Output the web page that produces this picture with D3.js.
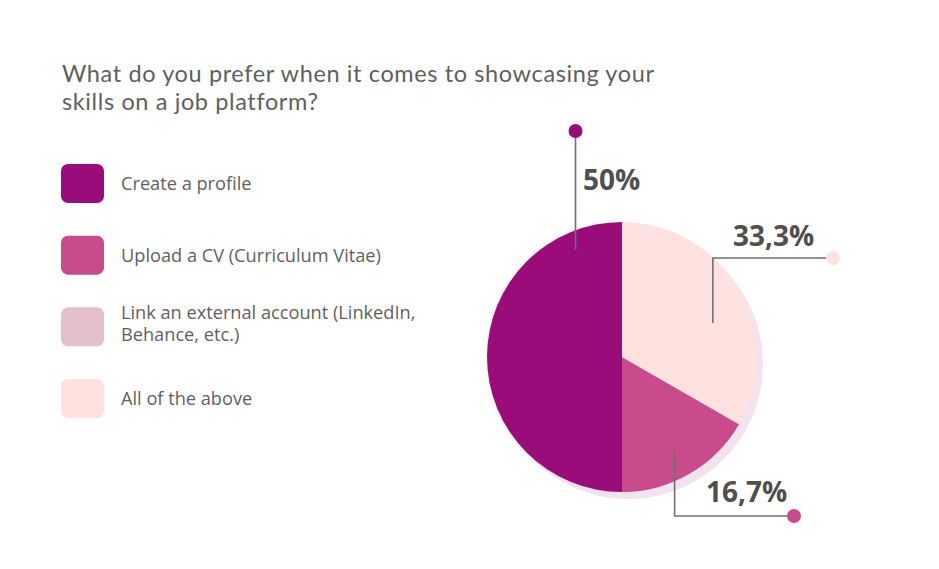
<!DOCTYPE html>
<html>
<head>
<meta charset="utf-8">
<script src="https://cdn.jsdelivr.net/npm/d3@7"></script>
<style>
  html, body { margin: 0; padding: 0; background: #ffffff; }
  svg { display: block; }
</style>
</head>
<body>
<svg id="chart" width="939" height="569"></svg>
<script>
// ---- data ----
const title = ["What do you prefer when it comes to showcasing your", "skills on a job platform?"];
const categories = ["Create a profile", "Upload a CV (Curriculum Vitae)", "Link an external account (LinkedIn, Behance, etc.)", "All of the above"];
const legendLines = [["Create a profile"], ["Upload a CV (Curriculum Vitae)"], ["Link an external account (LinkedIn,", "Behance, etc.)"], ["All of the above"]];
const values = [50, 16.7, 0, 33.3];
const valueLabels = ["50%", "16,7%", "0%", "33,3%"];
const colors = ["#9a0c79", "#c94b8b", "#e6bfcf", "#fde2df"];
const pieOrder = [3, 1, 2, 0]; // drawing order clockwise from 12 o'clock

// ---- layout ----
const W = 939, H = 569;
const cx = 622, cy = 357, R = 135;
const font = "'Open Sans', 'Noto Sans', sans-serif";
const titleFont = "Lato, 'Open Sans', sans-serif";
const textColor = "#5f5f5f";

const svg = d3.select("#chart");

// title (one text element per line)
const titleSize = 23.5;
const titleG = svg.append("g");
title.forEach((line, i) => {
  titleG.append("text")
    .attr("x", 62).attr("y", 82 + i * 28)
    .attr("font-family", titleFont).attr("font-size", titleSize).attr("fill", textColor)
    .text(line);
});
// stretch first line to the reference width via letter-spacing
(function () {
  const first = titleG.select("text").node();
  const w = first.getComputedTextLength();
  const target = 592;
  const ls = (target - w) / (title[0].length - 1);
  titleG.selectAll("text").attr("letter-spacing", Math.max(0, ls));
})();

// legend
const legend = svg.append("g");
const rowY = d3.scaleLinear().domain([0, 3]).range([164, 379]);
categories.forEach((c, i) => {
  const g = legend.append("g").attr("transform", `translate(61,${rowY(i)})`);
  g.append("rect").attr("width", 43).attr("height", 39).attr("rx", 7).attr("fill", colors[i]);
  const lines = legendLines[i];
  lines.forEach((l, j) => {
    g.append("text")
      .attr("font-family", font).attr("font-size", 18.2).attr("fill", textColor)
      .attr("x", 60)
      .attr("y", lines.length === 1 ? 26 : 12 + j * 22)
      .text(l);
  });
});

// pie
const data = categories.map((c, i) => ({ i, name: c, value: values[i] }));
const pie = d3.pie().value(d => d.value).sort((a, b) => pieOrder.indexOf(a.i) - pieOrder.indexOf(b.i));
const arcs = pie(data);
const arc = d3.arc().innerRadius(0).outerRadius(R);

// shadow disc
svg.append("circle").attr("cx", cx + 6).attr("cy", cy + 7).attr("r", R).attr("fill", "#f3e3ef");

const pg = svg.append("g").attr("transform", `translate(${cx},${cy})`);
pg.selectAll("path").data(arcs.filter(d => d.value > 0)).join("path")
  .attr("d", arc)
  .attr("fill", d => colors[d.data.i]);

// labels: anchor at fraction of slice angle and radius, leader to a dot
const labelCfg = {
  0: { frac: 0.87, r: 117, route: "v", endY: 131, tx: 583, ty: 190 },
  3: { frac: 0.58, r: 97, route: "vh", endY: 258, endX: 833, tx: 733, ty: 246 },
  1: { frac: 0.51, r: 107, route: "vh", endY: 516, endX: 794, tx: 706, ty: 502 }
};
arcs.forEach(d => {
  const cfg = labelCfg[d.data.i];
  if (!cfg) return;
  const a = d.startAngle + cfg.frac * (d.endAngle - d.startAngle);
  const ax = cx + cfg.r * Math.sin(a), ay = cy - cfg.r * Math.cos(a);
  let pts, dot;
  if (cfg.route === "v") {
    pts = [[ax, ay], [ax, cfg.endY]];
    dot = [ax, cfg.endY];
  } else {
    pts = [[ax, ay], [ax, cfg.endY], [cfg.endX, cfg.endY]];
    dot = [cfg.endX, cfg.endY];
  }
  svg.append("path").attr("d", d3.line()(pts))
    .attr("fill", "none").attr("stroke", "#707070").attr("stroke-width", 1.6);
  svg.append("circle").attr("cx", dot[0]).attr("cy", dot[1]).attr("r", 7)
    .attr("fill", colors[d.data.i]);
  svg.append("text").attr("x", cfg.tx).attr("y", cfg.ty)
    .attr("font-family", font).attr("font-weight", 700).attr("font-size", 28)
    .attr("fill", "#4f4f4f").text(valueLabels[d.data.i]);
});
</script>
</body>
</html>
